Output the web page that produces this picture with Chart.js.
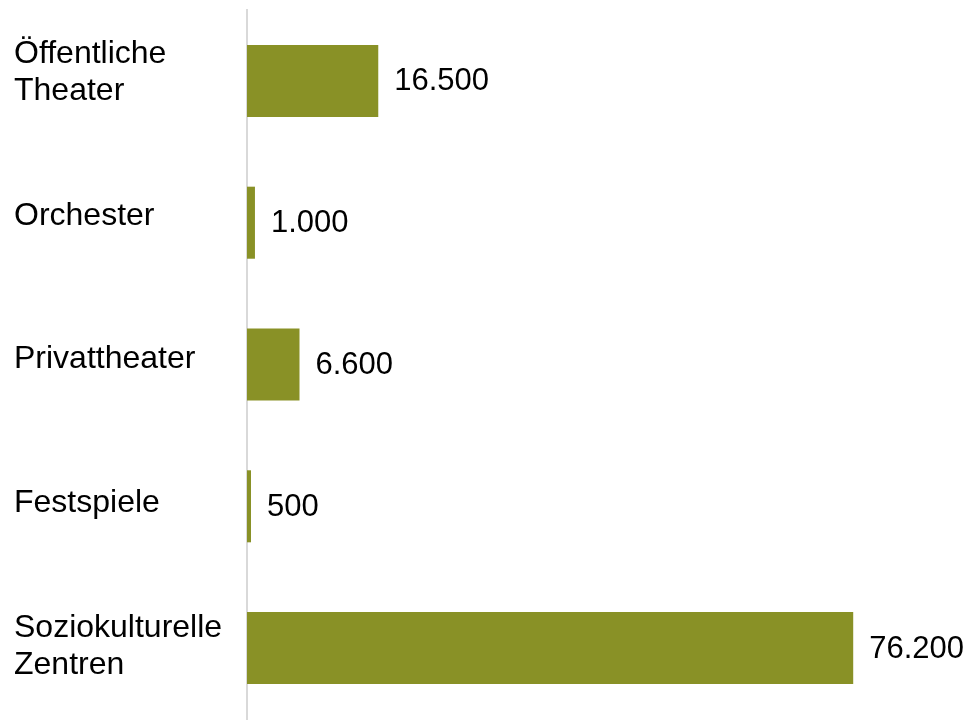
<!DOCTYPE html>
<html lang="de">
<head>
<meta charset="utf-8">
<script src="https://cdn.jsdelivr.net/npm/chart.js@4/dist/chart.umd.min.js"></script>
<style>
  html, body { margin: 0; padding: 0; background: #ffffff; }
  canvas { display: block; }
</style>
</head>
<body>
<canvas id="chart" width="968" height="720"></canvas>
<script>
// Sparten and their values
const categories = [
  ['Öffentliche', 'Theater'],
  'Orchester',
  'Privattheater',
  'Festspiele',
  ['Soziokulturelle', 'Zentren']
];
const values = [16500, 1000, 6600, 500, 76200];
const valueLabels = ['16.500', '1.000', '6.600', '500', '76.200'];

const barColor = '#899126';
const fontFamily = '"Liberation Sans", Arial, Helvetica, sans-serif';

// Writes each value just to the right of its bar
const valueLabelPlugin = {
  id: 'valueLabels',
  afterDatasetsDraw(chart) {
    const ctx = chart.ctx;
    const meta = chart.getDatasetMeta(0);
    ctx.save();
    ctx.font = '31px ' + fontFamily;
    ctx.fillStyle = '#000000';
    ctx.textAlign = 'left';
    ctx.textBaseline = 'middle';
    meta.data.forEach((bar, i) => {
      ctx.fillText(valueLabels[i], bar.x + 16, bar.y + 1);
    });
    ctx.restore();
  }
};

new Chart(document.getElementById('chart'), {
  type: 'bar',
  data: {
    labels: categories,
    datasets: [{
      data: values,
      backgroundColor: barColor,
      borderWidth: 0,
      barPercentage: 0.508,
      categoryPercentage: 1.0
    }]
  },
  options: {
    indexAxis: 'y',
    responsive: false,
    animation: false,
    layout: { padding: { left: 14, top: 10, bottom: 1, right: 5 } },
    plugins: {
      legend: { display: false },
      tooltip: { enabled: false }
    },
    scales: {
      x: {
        type: 'linear',
        display: false,
        min: 0,
        max: 90000
      },
      y: {
        type: 'category',
        display: false
      },
      // name axis on the left carrying the category names
      yl: {
        type: 'linear',
        position: 'left',
        reverse: true,
        offset: false,
        min: -0.4337,
        max: 4.5019,
        afterBuildTicks(scale) {
          scale.ticks = categories.map((_, i) => ({ value: i }));
        },
        afterFit(scale) {
          scale.width = 233;
          scale.paddingTop = 0;
          scale.paddingBottom = 0;
        },
        grid: { display: false, drawTicks: false, offset: false },
        border: { display: true, color: '#d9d9d9', width: 2 },
        ticks: {
          autoSkip: false,
          crossAlign: 'far',
          padding: 0,
          color: '#000000',
          font: { family: fontFamily, size: 32, lineHeight: 1.16 },
          callback: (v) => categories[v]
        }
      }
    }
  },
  plugins: [valueLabelPlugin]
});
</script>
</body>
</html>
